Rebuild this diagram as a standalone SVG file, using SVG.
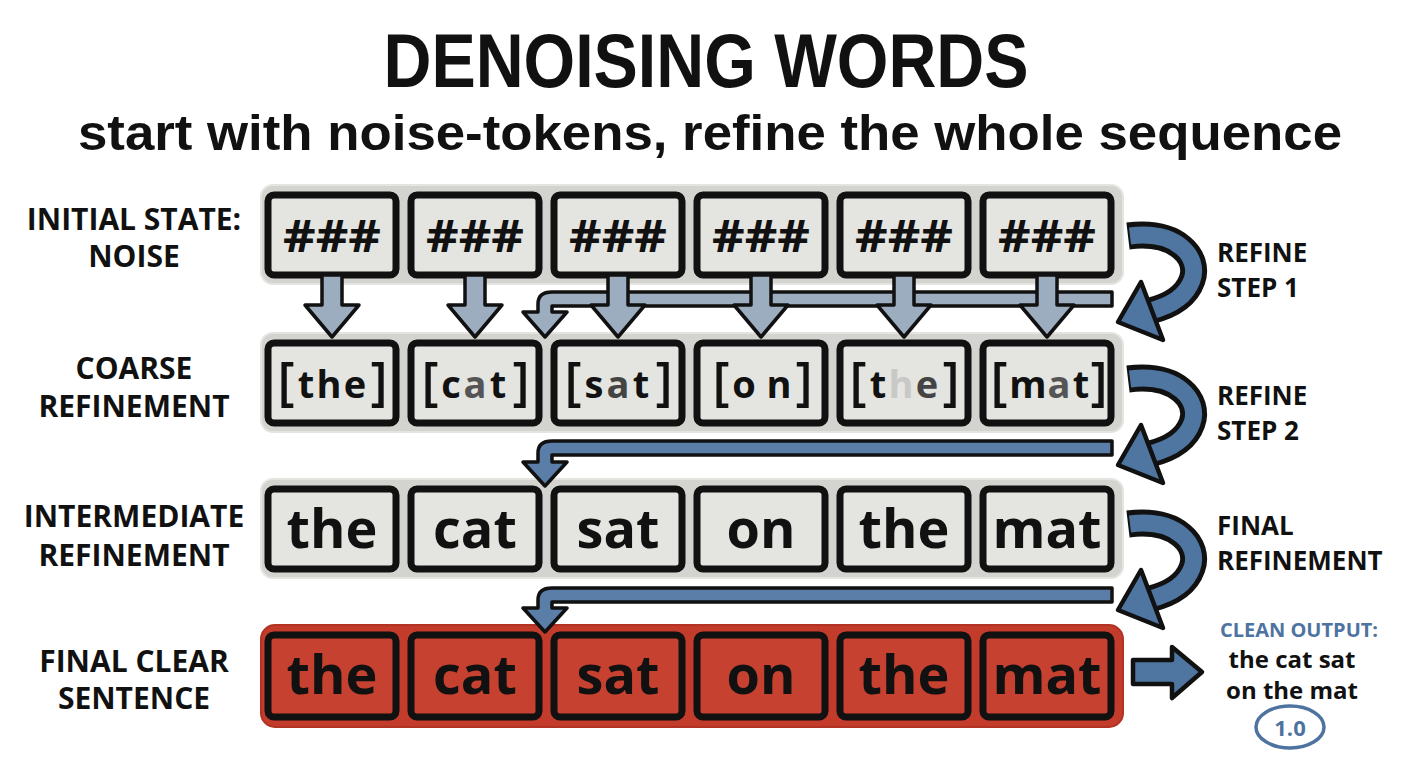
<svg xmlns="http://www.w3.org/2000/svg" width="1408" height="768" viewBox="0 0 1408 768">
<style>
text{font-family:"Open Sans","Liberation Sans",sans-serif;font-weight:700;fill:#111}
.ttl{font-family:"Liberation Sans",Arial,sans-serif}
.band{fill:#d3d3cf;stroke:#e4e4e0;stroke-width:2}
.bandr{fill:#c23b2b;stroke:#b23324;stroke-width:2}
.box{fill:#e4e4e0;stroke:#111;stroke-width:7}
.boxr{fill:#c64130;stroke:#111;stroke-width:7}
.hash{font-size:44px}
.c{font-size:38px;text-anchor:middle}
.br{font-size:52px;text-anchor:middle;font-weight:600}
.w{font-size:54px;text-anchor:middle}
.lab{font-size:30px;text-anchor:middle}
.rlab{font-size:26px}
.down{fill:#9dadc0;stroke:#111;stroke-width:3.5;stroke-linejoin:round}
.bar1{fill:#9dadc0;stroke:#111;stroke-width:3.5;stroke-linejoin:round}
.bar2{fill:#5a7ea7;stroke:#111;stroke-width:3.5;stroke-linejoin:round}
.cout{fill:none;stroke:#111;stroke-width:27}
.cin{fill:none;stroke:#4f76a0;stroke-width:17}
.chead{fill:#4f76a0;stroke:#111;stroke-width:4.5;stroke-linejoin:round}
.g1{fill:#555}.g2{fill:#c8c8c6}.g3{fill:#444}
</style>

<g id="title">
<text class="ttl" x="706" y="87" font-size="76" text-anchor="middle" textLength="645" lengthAdjust="spacingAndGlyphs">DENOISING WORDS</text>
<text class="ttl" x="710" y="150" font-size="50" text-anchor="middle" textLength="1264" lengthAdjust="spacingAndGlyphs">start with noise-tokens, refine the whole sequence</text>
</g>

<g id="labels-left">
<text class="lab" x="134" y="230">INITIAL STATE:</text>
<text class="lab" x="134" y="267">NOISE</text>
<text class="lab" x="134" y="379">COARSE</text>
<text class="lab" x="134" y="417">REFINEMENT</text>
<text class="lab" x="134" y="527">INTERMEDIATE</text>
<text class="lab" x="134" y="566">REFINEMENT</text>
<text class="lab" x="134" y="672">FINAL CLEAR</text>
<text class="lab" x="134" y="709">SENTENCE</text>
</g>

<g id="row1">
<rect class="band" x="261" y="185" width="862" height="99" rx="12"/>
<g id="n1-1"><rect class="box" x="268" y="195" width="128" height="80" rx="6"/><text class="hash" x="283" y="252" textLength="98" lengthAdjust="spacingAndGlyphs">###</text></g>
<g id="n1-2"><rect class="box" x="411" y="195" width="128" height="80" rx="6"/><text class="hash" x="426" y="252" textLength="98" lengthAdjust="spacingAndGlyphs">###</text></g>
<g id="n1-3"><rect class="box" x="554" y="195" width="128" height="80" rx="6"/><text class="hash" x="569" y="252" textLength="98" lengthAdjust="spacingAndGlyphs">###</text></g>
<g id="n1-4"><rect class="box" x="697" y="195" width="128" height="80" rx="6"/><text class="hash" x="712" y="252" textLength="98" lengthAdjust="spacingAndGlyphs">###</text></g>
<g id="n1-5"><rect class="box" x="840" y="195" width="128" height="80" rx="6"/><text class="hash" x="855" y="252" textLength="98" lengthAdjust="spacingAndGlyphs">###</text></g>
<g id="n1-6"><rect class="box" x="983" y="195" width="128" height="80" rx="6"/><text class="hash" x="998" y="252" textLength="98" lengthAdjust="spacingAndGlyphs">###</text></g>
</g>

<g id="row2">
<rect class="band" x="261" y="333" width="862" height="99" rx="12"/>
<g id="n2-1"><rect class="box" x="268" y="343" width="128" height="80" rx="6"/>
<text class="br" x="286" y="400">[</text><text class="c" x="306" y="398">t</text><text class="c" x="329" y="398">h</text><text class="c" x="355" y="398">e</text><text class="br" x="379" y="400">]</text></g>
<g id="n2-2"><rect class="box" x="411" y="343" width="128" height="80" rx="6"/>
<text class="br" x="430" y="400">[</text><text class="c" x="451" y="398">c</text><text class="c g1" x="475" y="398">a</text><text class="c" x="498" y="398">t</text><text class="br" x="521" y="400">]</text></g>
<g id="n2-3"><rect class="box" x="554" y="343" width="128" height="80" rx="6"/>
<text class="br" x="573" y="400">[</text><text class="c" x="594" y="398">s</text><text class="c g3" x="618" y="398">a</text><text class="c" x="641" y="398">t</text><text class="br" x="664" y="400">]</text></g>
<g id="n2-4"><rect class="box" x="697" y="343" width="128" height="80" rx="6"/>
<text class="br" x="721" y="400">[</text><text class="c" x="744" y="398">o</text><text class="c" x="779" y="398">n</text><text class="br" x="804" y="400">]</text></g>
<g id="n2-5"><rect class="box" x="840" y="343" width="128" height="80" rx="6"/>
<text class="br" x="858" y="400">[</text><text class="c" x="878" y="398">t</text><text class="c g2" x="901" y="398">h</text><text class="c g3" x="927" y="398">e</text><text class="br" x="951" y="400">]</text></g>
<g id="n2-6"><rect class="box" x="983" y="343" width="128" height="80" rx="6"/>
<text class="br" x="999" y="400">[</text><text class="c" x="1028" y="398">m</text><text class="c g1" x="1059" y="398">a</text><text class="c" x="1081" y="398">t</text><text class="br" x="1099" y="400">]</text></g>
</g>

<g id="row3">
<rect class="band" x="261" y="479" width="862" height="99" rx="12"/>
<g id="n3-1"><rect class="box" x="268" y="489" width="128" height="80" rx="6"/><text class="w" x="332" y="548">the</text></g>
<g id="n3-2"><rect class="box" x="411" y="489" width="128" height="80" rx="6"/><text class="w" x="475" y="548">cat</text></g>
<g id="n3-3"><rect class="box" x="554" y="489" width="128" height="80" rx="6"/><text class="w" x="618" y="548">sat</text></g>
<g id="n3-4"><rect class="box" x="697" y="489" width="128" height="80" rx="6"/><text class="w" x="761" y="548">on</text></g>
<g id="n3-5"><rect class="box" x="840" y="489" width="128" height="80" rx="6"/><text class="w" x="904" y="548">the</text></g>
<g id="n3-6"><rect class="box" x="983" y="489" width="128" height="80" rx="6"/><text class="w" x="1047" y="548">mat</text></g>
</g>

<g id="row4">
<rect class="bandr" x="261" y="625" width="862" height="102" rx="14"/>
<g id="n4-1"><rect class="boxr" x="268" y="635" width="128" height="82" rx="6"/><text class="w" x="332" y="694">the</text></g>
<g id="n4-2"><rect class="boxr" x="411" y="635" width="128" height="82" rx="6"/><text class="w" x="475" y="694">cat</text></g>
<g id="n4-3"><rect class="boxr" x="554" y="635" width="128" height="82" rx="6"/><text class="w" x="618" y="694">sat</text></g>
<g id="n4-4"><rect class="boxr" x="697" y="635" width="128" height="82" rx="6"/><text class="w" x="761" y="694">on</text></g>
<g id="n4-5"><rect class="boxr" x="840" y="635" width="128" height="82" rx="6"/><text class="w" x="904" y="694">the</text></g>
<g id="n4-6"><rect class="boxr" x="983" y="635" width="128" height="82" rx="6"/><text class="w" x="1047" y="694">mat</text></g>
</g>

<g id="connectors">
<path class="bar1" d="M1112,292 L552,292 Q538,292 538,304 L538,312 L523,312 L545,337 L567,312 L552,312 L552,306 L1112,306 Z"/>
<polygon class="down" points="322,275 342,275 342,305 359,305 332,337 305,305 322,305"/>
<polygon class="down" points="465,275 485,275 485,305 502,305 475,337 448,305 465,305"/>
<polygon class="down" points="608,275 628,275 628,305 645,305 618,337 591,305 608,305"/>
<polygon class="down" points="751,275 771,275 771,305 788,305 761,337 734,305 751,305"/>
<polygon class="down" points="894,275 914,275 914,305 931,305 904,337 877,305 894,305"/>
<polygon class="down" points="1037,275 1057,275 1057,305 1074,305 1047,337 1020,305 1037,305"/>
<path class="bar2" d="M1112,441 L552,441 Q538,441 538,453 L538,462 L523,462 L545,486 L567,462 L552,462 L552,455 L1112,455 Z"/>
<path class="bar2" d="M1112,588 L552,588 Q538,588 538,600 L538,608 L523,608 L545,632 L567,608 L552,608 L552,602 L1112,602 Z"/>
<g id="curve1">
<path class="cout" d="M1128,236 C1178,230 1200,258 1192,280 C1186,297 1170,306 1150,311"/>
<path class="cin" d="M1130,236 C1178,230 1200,258 1192,280 C1186,297 1170,306 1150,311"/>
<polygon class="chead" points="1118,322 1141,282 1163,340"/>
</g>
<g id="curve2" transform="translate(0,143)">
<path class="cout" d="M1128,236 C1178,230 1200,258 1192,280 C1186,297 1170,306 1150,311"/>
<path class="cin" d="M1130,236 C1178,230 1200,258 1192,280 C1186,297 1170,306 1150,311"/>
<polygon class="chead" points="1118,322 1141,282 1163,340"/>
</g>
<g id="curve3" transform="translate(0,288)">
<path class="cout" d="M1128,236 C1178,230 1200,258 1192,280 C1186,297 1170,306 1150,311"/>
<path class="cin" d="M1130,236 C1178,230 1200,258 1192,280 C1186,297 1170,306 1150,311"/>
<polygon class="chead" points="1118,322 1141,282 1163,340"/>
</g>
<polygon class="chead" stroke-width="3.5" points="1133,660 1172,660 1172,647 1202,672 1172,698 1172,684 1133,684"/>
</g>

<g id="labels-right">
<text class="rlab" x="1217" y="262">REFINE</text>
<text class="rlab" x="1217" y="297">STEP 1</text>
<text class="rlab" x="1217" y="405">REFINE</text>
<text class="rlab" x="1217" y="440">STEP 2</text>
<text class="rlab" x="1217" y="535">FINAL</text>
<text class="rlab" x="1217" y="570">REFINEMENT</text>
</g>

<g id="output">
<text x="1299" y="637" font-size="20" text-anchor="middle" style="fill:#4e73a0">CLEAN OUTPUT:</text>
<text x="1292" y="668" font-size="24" text-anchor="middle">the cat sat</text>
<text x="1292" y="699" font-size="24" text-anchor="middle">on the mat</text>
<ellipse cx="1290" cy="727" rx="34" ry="21" fill="none" stroke="#4e73a0" stroke-width="3.5"/>
<text x="1290" y="736" font-size="22" text-anchor="middle" style="fill:#4e73a0">1.0</text>
</g>
</svg>
